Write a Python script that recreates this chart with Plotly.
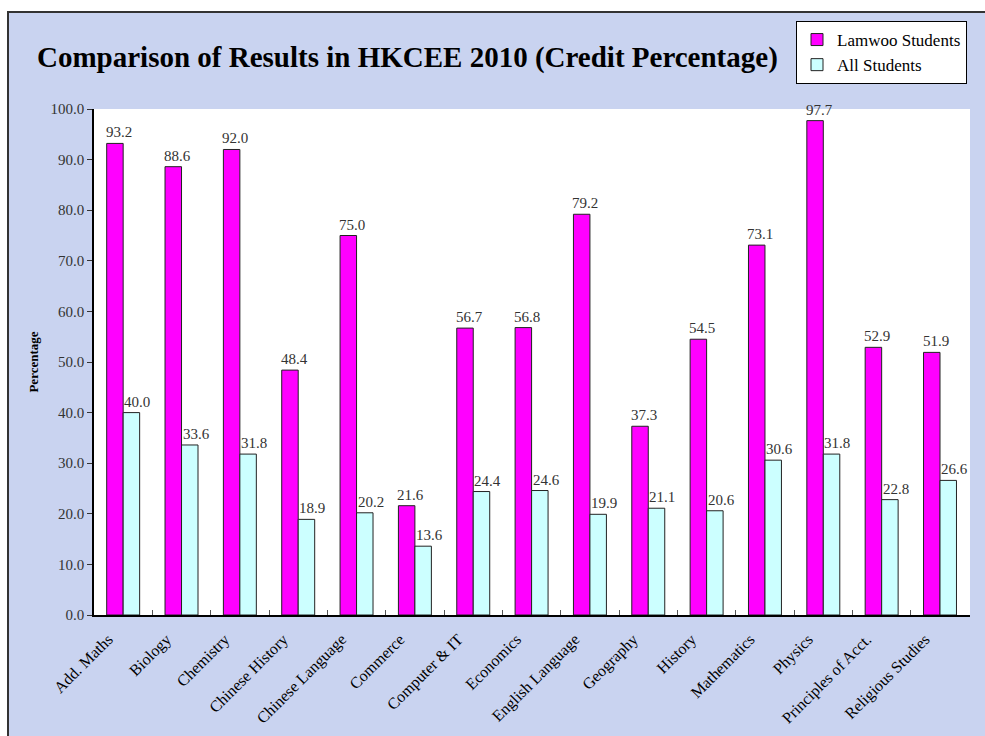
import plotly.graph_objects as go

categories = ["Add. Maths", "Biology", "Chemistry", "Chinese History", "Chinese Language",
              "Commerce", "Computer & IT", "Economics", "English Language", "Geography",
              "History", "Mathematics", "Physics", "Principles of Acct.", "Religious Studies"]
lamwoo = [93.2, 88.6, 92.0, 48.4, 75.0, 21.6, 56.7, 56.8, 79.2, 37.3, 54.5, 73.1, 97.7, 52.9, 51.9]
all_students = [40.0, 33.6, 31.8, 18.9, 20.2, 13.6, 24.4, 24.6, 19.9, 21.1, 20.6, 30.6, 31.8, 22.8, 26.6]
y_ticks = [0, 10, 20, 30, 40, 50, 60, 70, 80, 90, 100]

W, H = 985, 736
L, R, T, B = 94, 15, 109, 121
PW, PH = W - L - R, H - T - B
BARGAP = 0.435

def px(x):
    return (x - L) / PW

def py(y):
    return (H - B - y) / PH

SERIF = "Liberation Serif, Times New Roman, serif"

fig = go.Figure()
fig.add_trace(go.Bar(
    name="Lamwoo Students", x=categories, y=lamwoo, legendgroup="a",
    marker=dict(color="#FF00FF", line=dict(color="#222222", width=1)),
))
fig.add_trace(go.Bar(
    name="All Students", x=categories, y=all_students, legendgroup="b",
    marker=dict(color="#CCFFFF", line=dict(color="#222222", width=1)),
))

# value labels, left-aligned near each bar's left edge (as in the original)
cat_w = PW / len(categories)
bar_w = cat_w * (1 - BARGAP) / 2
for series, shift in ((lamwoo, -bar_w - 3), (all_students, -1)):
    for c, v in zip(categories, series):
        fig.add_annotation(x=c, y=v, text=f"{v:.1f}", showarrow=False,
                           xanchor="left", yanchor="bottom", xshift=shift, yshift=1,
                           font=dict(family=SERIF, size=15, color="#333333"))

fig.update_layout(
    width=W, height=H,
    margin=dict(l=L, r=R, t=T, b=B, autoexpand=False),
    paper_bgcolor="#C9D3F0",
    plot_bgcolor="#FFFFFF",
    barmode="group", bargap=BARGAP, bargroupgap=0,
    font=dict(family=SERIF, color="#333333"),
    title=dict(text="<b>Comparison of Results in HKCEE 2010 (Credit Percentage)</b>",
               x=37 / W, xanchor="left", y=1 - 57 / H, yanchor="middle",
               font=dict(family=SERIF, size=29, color="#000000")),
    legend=dict(x=967 / W, y=1 - 21 / H, xref="container", yref="container",
                xanchor="right", yanchor="top", itemwidth=30,
                bgcolor="#FFFFFF", bordercolor="#000000", borderwidth=1,
                font=dict(family=SERIF, size=17, color="#000000"),
                tracegroupgap=5, traceorder="normal"),
    showlegend=True,
)
fig.update_yaxes(
    range=[0, 100], tickvals=y_ticks, tickformat=".1f",
    ticks="outside", ticklen=5, tickcolor="#333333",
    showline=True, linecolor="#000000", linewidth=1.5,
    showgrid=False, zeroline=False, automargin=False,
    tickfont=dict(family=SERIF, size=15, color="#333333"),
    title=dict(text="<b>Percentage</b>", font=dict(family=SERIF, size=13, color="#000000"),
               standoff=9),
)
fig.update_xaxes(
    tickangle=-45, ticks="inside", tickson="boundaries", ticklen=5, tickcolor="#555555",
    showline=True, linecolor="#000000", linewidth=1.5, showgrid=False, automargin=False,
    ticklabelstandoff=7, ticklabelshift=-15,
    tickfont=dict(family=SERIF, size=16, color="#000000"),
)

# white strip above / left of the frame
fig.add_shape(type="rect", xref="paper", yref="paper", layer="below",
              x0=px(0), x1=px(985), y0=py(12), y1=py(0),
              fillcolor="#FFFFFF", line=dict(width=0))
fig.add_shape(type="rect", xref="paper", yref="paper", layer="below",
              x0=px(0), x1=px(8), y0=py(736), y1=py(0),
              fillcolor="#FFFFFF", line=dict(width=0))
# outer frame (top and left edges)
fig.add_shape(type="path", xref="paper", yref="paper",
              path=f"M {px(8)} {py(736)} L {px(8)} {py(12)} L {px(985)} {py(12)}",
              line=dict(color="#333333", width=2))

fig.write_html("out.html", config={"displayModeBar": False},
               post_script="document.body.style.margin='0px';document.body.style.overflow='hidden';")
